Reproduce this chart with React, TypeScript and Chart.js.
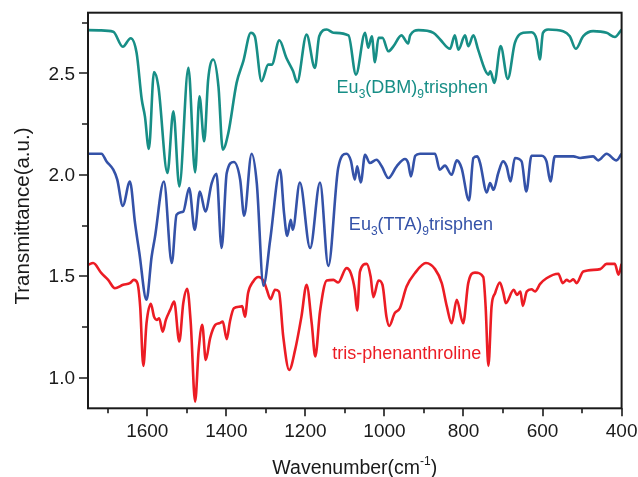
import React, { useEffect, useRef } from 'react';
import { Chart, registerables } from 'chart.js';

Chart.register(...registerables);

// ---------- DATA ----------
const dbmWavenumbers = [
  1750, 1720, 1686, 1662, 1642, 1627, 1614, 1606, 1596, 1583, 1572, 1549, 1534, 1519, 1496, 1479,
  1468, 1456, 1446, 1433, 1420, 1409, 1395, 1374, 1357, 1338, 1328, 1311, 1294, 1285, 1266, 1248,
  1231, 1221, 1197, 1176, 1165, 1146, 1129, 1091, 1072, 1049, 1041, 1032, 1024, 1015, 1005, 990,
  977, 957, 940, 935, 914, 876, 859, 834, 822, 813, 796, 788, 775, 763, 746, 737, 732, 722, 706,
  688, 670, 649, 628, 615, 607, 599, 586, 548, 531, 516, 497, 472, 438, 417, 400,
];
const dbmTransmittance = [
  2.713, 2.712, 2.705, 2.631, 2.673, 2.6, 2.371, 2.288, 2.127, 2.506, 2.436, 2.009, 2.313, 1.943, 2.527, 2.012,
  2.387, 2.165, 2.469, 2.568, 2.436, 2.124, 2.206, 2.453, 2.56, 2.7, 2.683, 2.461, 2.543, 2.543, 2.663, 2.576,
  2.51, 2.456, 2.691, 2.527, 2.683, 2.716, 2.7, 2.687, 2.494, 2.7, 2.626, 2.683, 2.555, 2.675, 2.675, 2.609,
  2.634, 2.687, 2.647, 2.687, 2.713, 2.7, 2.667, 2.621, 2.687, 2.617, 2.687, 2.634, 2.687, 2.617, 2.519, 2.494, 2.51, 2.453, 2.634,
  2.473, 2.65, 2.7, 2.703, 2.667, 2.568, 2.7, 2.716, 2.708, 2.683, 2.621, 2.683, 2.708, 2.7, 2.679, 2.716,
];

const ttaWavenumbers = [
  1750, 1716, 1703, 1686, 1676, 1662, 1644, 1631, 1620, 1602, 1589, 1581, 1558, 1538, 1526, 1509,
  1494, 1480, 1467, 1453, 1437, 1425, 1412, 1399, 1381, 1365, 1355, 1336, 1323, 1306, 1289, 1264,
  1254, 1246, 1237, 1232, 1214, 1188, 1163, 1142, 1117, 1096, 1085, 1075, 1069, 1060, 1049, 1037,
  1020, 1007, 990, 969, 948, 940, 933, 922, 910, 872, 860, 847, 830, 817, 805, 786, 775, 765, 758,
  741, 733, 724, 712, 700, 691, 681, 670, 653, 641, 628, 602, 590, 580, 569, 522, 505, 472, 459,
  438, 413, 400,
];
const ttaTransmittance = [
  2.104, 2.104, 2.066, 2.025, 1.976, 1.847, 1.967, 1.762, 1.614, 1.384, 1.597, 1.688, 1.967, 1.565, 1.803, 1.819,
  1.935, 1.729, 1.918, 1.819, 1.959, 2.005, 1.639, 2.009, 2.063, 1.976, 1.798, 2.104, 1.959, 1.453, 1.68, 2.025,
  1.811, 1.699, 1.778, 1.729, 1.962, 1.639, 1.962, 1.551, 2.034, 2.104, 2.07, 1.976, 2.042, 1.962, 2.099, 2.058,
  2.074, 2.042, 1.984, 2.042, 2.078, 2.058, 1.992, 2.094, 2.104, 2.104, 2.025, 2.045, 2.0, 2.071, 2.034, 1.874, 2.083, 2.091, 2.058,
  1.913, 1.959, 1.926, 2.009, 2.066, 2.042, 1.967, 2.083, 2.066, 1.918, 2.094, 2.094, 2.066, 1.967, 2.091, 2.091, 2.083, 2.091, 2.071,
  2.104, 2.071, 2.104,
];

const phenWavenumbers = [
  1750, 1737, 1716, 1699, 1682, 1661, 1644, 1634, 1625, 1618, 1610, 1602, 1591, 1583, 1576, 1570,
  1561, 1553, 1542, 1532, 1519, 1509, 1499, 1490, 1479, 1470, 1461, 1452, 1441, 1428, 1418, 1409,
  1399, 1391, 1381, 1365, 1360, 1353, 1345, 1332, 1319, 1305, 1298, 1288, 1277, 1267, 1256, 1241,
  1226, 1210, 1197, 1184, 1175, 1163, 1146, 1129, 1117, 1096, 1085, 1075, 1069, 1062, 1045, 1035,
  1028, 1015, 1005, 995, 988, 974, 961, 944, 923, 895, 872, 855, 842, 830, 817, 801, 788, 771, 750,
  744, 737, 729, 720, 708, 699, 693, 673, 665, 656, 650, 640, 628, 619, 606, 590, 560, 549, 539,
  531, 522, 514, 497, 454, 438, 417, 408, 400,
];
const phenTransmittance = [
  1.556, 1.565, 1.515, 1.482, 1.441, 1.458, 1.466, 1.482, 1.466, 1.35, 1.058, 1.268, 1.364, 1.301, 1.285, 1.293,
  1.227, 1.285, 1.334, 1.375, 1.178, 1.367, 1.438, 1.268, 0.882, 1.137, 1.26, 1.087, 1.195, 1.26, 1.268, 1.276,
  1.19, 1.276, 1.342, 1.35, 1.353, 1.301, 1.417, 1.474, 1.496, 1.474, 1.436, 1.387, 1.433, 1.425, 1.202, 1.038,
  1.137, 1.301, 1.458, 1.268, 1.104, 1.326, 1.479, 1.482, 1.469, 1.54, 1.515, 1.433, 1.331, 1.523, 1.561, 1.499,
  1.397, 1.479, 1.458, 1.301, 1.255, 1.318, 1.342, 1.449, 1.515, 1.565, 1.535, 1.466, 1.35, 1.268, 1.384, 1.268, 1.466, 1.518, 1.496,
  1.35, 1.058, 1.35, 1.417, 1.469, 1.417, 1.367, 1.433, 1.408, 1.425, 1.354, 1.425, 1.436, 1.425, 1.462, 1.49, 1.512, 1.466, 1.482,
  1.474, 1.485, 1.466, 1.523, 1.535, 1.561, 1.561, 1.507, 1.561,
];

const xMajorTicks = [1600, 1400, 1200, 1000, 800, 600, 400];
const xTickLabels = ['1600', '1400', '1200', '1000', '800', '600', '400'];
const xMinorTicks = [1700, 1500, 1300, 1100, 900, 700, 500];
const yMajorTicks = [1.0, 1.5, 2.0, 2.5];
const yTickLabels = ['1.0', '1.5', '2.0', '2.5'];
const yMinorTicks = [1.25, 1.75, 2.25, 2.75];

const TEAL = '#178e86';
const BLUE = '#3452a8';
const RED = '#ec1c24';
const INK = '#1a1a1a';
const FONT = '"Liberation Sans", Arial, Helvetica, sans-serif';

type Seg = { t: string; size: number; dy?: number };

function drawRich(ctx: CanvasRenderingContext2D, segs: Seg[], x: number, y: number, align: 'left' | 'center') {
  let total = 0;
  segs.forEach((s) => {
    ctx.font = `${s.size}px ${FONT}`;
    total += ctx.measureText(s.t).width;
  });
  let cx = align === 'center' ? x - total / 2 : x;
  ctx.textAlign = 'left';
  ctx.textBaseline = 'alphabetic';
  segs.forEach((s) => {
    ctx.font = `${s.size}px ${FONT}`;
    ctx.fillText(s.t, cx, y + (s.dy || 0));
    cx += ctx.measureText(s.t).width;
  });
}

const decorPlugin = {
  id: 'decor',
  afterDraw(chart: any) {
    const { ctx, chartArea: a, scales } = chart;
    const xs = scales.x;
    const ys = scales.y;
    ctx.save();
    // frame
    ctx.strokeStyle = INK;
    ctx.lineWidth = 2;
    ctx.strokeRect(a.left, a.top, a.right - a.left, a.bottom - a.top);
    // ticks
    ctx.lineWidth = 1.6;
    ctx.beginPath();
    xMajorTicks.forEach((v) => {
      const p = Math.round(xs.getPixelForValue(v));
      ctx.moveTo(p, a.bottom);
      ctx.lineTo(p, a.bottom + 8);
    });
    xMinorTicks.forEach((v) => {
      const p = Math.round(xs.getPixelForValue(v));
      ctx.moveTo(p, a.bottom);
      ctx.lineTo(p, a.bottom + 5);
    });
    yMajorTicks.forEach((v) => {
      const p = Math.round(ys.getPixelForValue(v));
      ctx.moveTo(a.left, p);
      ctx.lineTo(a.left - 9, p);
    });
    yMinorTicks.forEach((v) => {
      const p = Math.round(ys.getPixelForValue(v));
      ctx.moveTo(a.left, p);
      ctx.lineTo(a.left - 6, p);
    });
    ctx.stroke();

    // tick labels
    ctx.fillStyle = INK;
    ctx.font = `19px ${FONT}`;
    ctx.textAlign = 'center';
    ctx.textBaseline = 'alphabetic';
    xMajorTicks.forEach((v, i) => {
      ctx.fillText(xTickLabels[i], xs.getPixelForValue(v), a.bottom + 29);
    });
    ctx.textAlign = 'right';
    ctx.textBaseline = 'middle';
    yMajorTicks.forEach((v, i) => {
      ctx.fillText(yTickLabels[i], a.left - 13, ys.getPixelForValue(v) + 1);
    });

    // axis titles
    drawRich(
      ctx,
      [
        { t: 'Wavenumber(cm', size: 19.5 },
        { t: '-1', size: 12, dy: -9 },
        { t: ')', size: 19.5 },
      ],
      (a.left + a.right) / 2,
      a.bottom + 65.5,
      'center'
    );
    ctx.save();
    ctx.translate(28.5, 216);
    ctx.rotate(-Math.PI / 2);
    drawRich(ctx, [{ t: 'Transmittance(a.u.)', size: 20.5 }], 0, 0, 'center');
    ctx.restore();

    // series labels
    ctx.fillStyle = TEAL;
    drawRich(
      ctx,
      [
        { t: 'Eu', size: 18 },
        { t: '3', size: 12, dy: 5 },
        { t: '(DBM)', size: 18 },
        { t: '9', size: 12, dy: 5 },
        { t: 'trisphen', size: 18 },
      ],
      xs.getPixelForValue(1121),
      ys.getPixelForValue(2.401),
      'left'
    );
    ctx.fillStyle = BLUE;
    drawRich(
      ctx,
      [
        { t: 'Eu', size: 18 },
        { t: '3', size: 12, dy: 5 },
        { t: '(TTA)', size: 18 },
        { t: '9', size: 12, dy: 5 },
        { t: 'trisphen', size: 18 },
      ],
      xs.getPixelForValue(1090),
      ys.getPixelForValue(1.726),
      'left'
    );
    ctx.fillStyle = RED;
    drawRich(ctx, [{ t: 'tris-phenanthroline', size: 18 }], xs.getPixelForValue(1132), ys.getPixelForValue(1.092), 'left');
    ctx.restore();
  },
};

function toPoints(xs: number[], ys: number[]) {
  return xs.map((x, i) => ({ x, y: ys[i] }));
}

export default function App() {
  const ref = useRef<HTMLCanvasElement>(null);
  useEffect(() => {
    if (!ref.current) return;
    const mk = (data: any, color: string) => ({
      data,
      borderColor: color,
      backgroundColor: color,
      borderWidth: 2.6,
      pointRadius: 0,
      fill: false,
      cubicInterpolationMode: 'monotone' as const,
    });
    const chart = new Chart(ref.current, {
      type: 'line',
      data: {
        datasets: [
          mk(toPoints(dbmWavenumbers, dbmTransmittance), TEAL),
          mk(toPoints(ttaWavenumbers, ttaTransmittance), BLUE),
          mk(toPoints(phenWavenumbers, phenTransmittance), RED),
        ],
      },
      options: {
        responsive: false,
        animation: false,
        devicePixelRatio: 1,
        parsing: false,
        layout: { padding: { top: 12.7, right: 16.4, left: 0, bottom: 0 } },
        plugins: { legend: { display: false }, tooltip: { enabled: false } },
        scales: {
          x: {
            type: 'linear',
            reverse: true,
            min: 400,
            max: 1750,
            grid: { display: false },
            border: { display: false },
            ticks: { display: false },
            afterFit: (s: any) => {
              s.height = 68.7;
            },
          },
          y: {
            type: 'linear',
            min: 0.849,
            max: 2.799,
            grid: { display: false },
            border: { display: false },
            ticks: { display: false },
            afterFit: (s: any) => {
              s.width = 88;
            },
          },
        },
      },
      plugins: [decorPlugin],
    });
    return () => chart.destroy();
  }, []);
  return (
    <div style={{ position: 'fixed', left: 0, top: 0, width: 638, height: 477, background: '#fff' }}>
      <canvas ref={ref} width={638} height={477} style={{ display: 'block' }} />
    </div>
  );
}
